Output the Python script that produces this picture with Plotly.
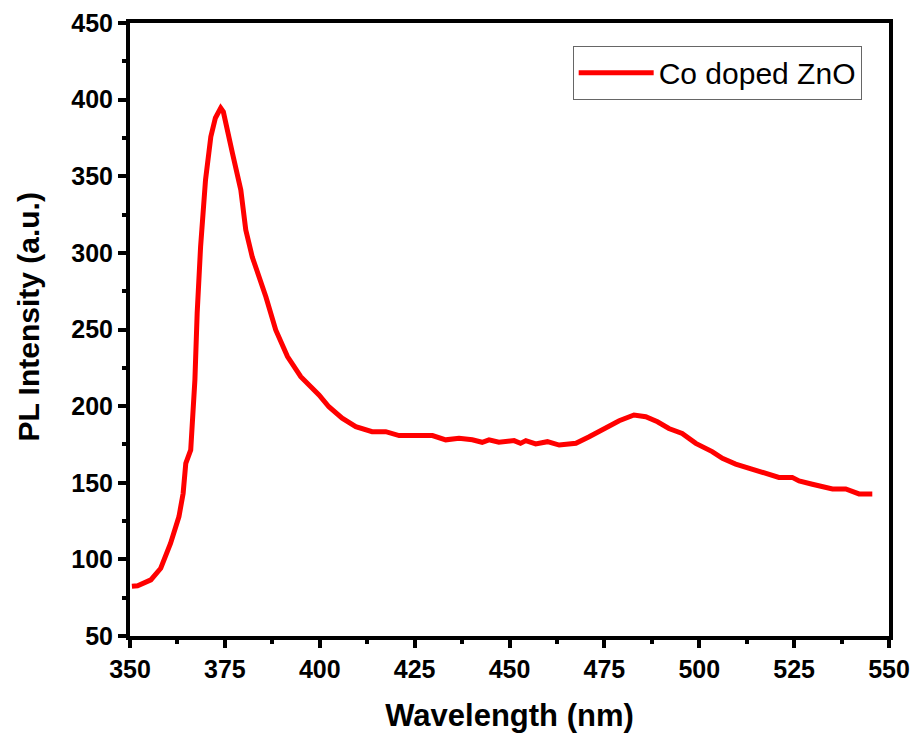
import plotly.graph_objects as go

wavelength = [350.5, 352.0, 355.5, 358.1, 360.7, 362.9, 364.0, 364.7, 366.0, 366.7,
              367.1, 367.7, 368.6, 369.9, 371.3, 372.5, 373.9, 374.6, 375.6, 377.0,
              379.2, 380.5, 382.2, 385.8, 388.4, 391.5, 395.0, 399.8, 402.4, 405.9,
              409.5, 413.8, 417.4, 420.9, 429.7, 433.2, 436.7, 440.2, 442.8, 444.6,
              447.2, 451.2, 452.9, 454.3, 456.9, 460.0, 463.1, 467.5, 471.0, 474.5,
              478.9, 482.8, 485.9, 489.0, 492.0, 495.5, 499.1, 503.4, 506.1, 509.6,
              514.0, 517.5, 521.0, 524.5, 526.3, 529.8, 535.1, 538.6, 542.1, 545.6]
intensity = [82.5, 82.8, 86.6, 94.2, 110.5, 127.9, 143.1, 162.7, 171.4, 195.3,
             217.0, 260.7, 304.0, 347.6, 375.8, 388.0, 394.5, 392.0, 380.0, 365.0,
             341.0, 315.0, 297.5, 271.4, 249.7, 232.3, 219.2, 207.3, 199.6, 192.1,
             186.6, 183.3, 183.3, 180.8, 180.8, 178.0, 179.0, 178.0, 176.4, 178.0,
             176.4, 177.5, 175.7, 177.5, 175.3, 176.8, 174.6, 175.7, 180.0, 184.4,
             190.5, 194.2, 193.1, 189.8, 185.4, 182.2, 175.7, 170.3, 165.9, 162.2,
             159.0, 156.2, 153.5, 153.5, 151.2, 149.0, 145.9, 145.9, 142.7, 142.7]

series_name = "Co doped ZnO"
x_title = "Wavelength (nm)"
y_title = "PL Intensity (a.u.)"

FONT = "Arial, 'Liberation Sans', sans-serif"

fig = go.Figure()
fig.add_trace(go.Scatter(
    x=wavelength, y=intensity, mode="lines", name=series_name,
    line=dict(color="#ff0000", width=5),
))

axis_common = dict(
    showline=True, linecolor="black", linewidth=4, mirror=True,
    ticks="outside", ticklen=8, tickwidth=4, tickcolor="black",
    showgrid=False, zeroline=False, automargin=False,
    tickfont=dict(family=FONT, size=25, color="black", weight="bold"),
)

fig.update_xaxes(
    range=[350, 550], tickmode="linear", tick0=350, dtick=25,
    minor=dict(ticks="outside", ticklen=4, tickwidth=4, tickcolor="black", dtick=12.5, tick0=350),
    title=dict(text=x_title, font=dict(family=FONT, size=31, color="black", weight="bold"), standoff=25),
    **axis_common,
)
fig.update_yaxes(
    range=[50, 450], tickmode="linear", tick0=50, dtick=50,
    minor=dict(ticks="outside", ticklen=4, tickwidth=4, tickcolor="black", dtick=25, tick0=50),
    **axis_common,
)

fig.add_annotation(
    text=y_title, xref="paper", yref="paper", x=-0.134, y=0.52,
    xanchor="center", yanchor="middle", textangle=-90, showarrow=False,
    font=dict(family=FONT, size=30, color="black", weight="bold"),
)

fig.update_layout(
    width=914, height=725,
    margin=dict(l=122, r=33, t=15, b=97),
    paper_bgcolor="white", plot_bgcolor="white",
    showlegend=True,
    legend=dict(
        x=0.964, y=0.963, xanchor="right", yanchor="top",
        bordercolor="#666666", borderwidth=1, bgcolor="white",
        font=dict(family=FONT, size=30, color="black"),
        itemwidth=75,
    ),
)

fig.write_html("out.html")
